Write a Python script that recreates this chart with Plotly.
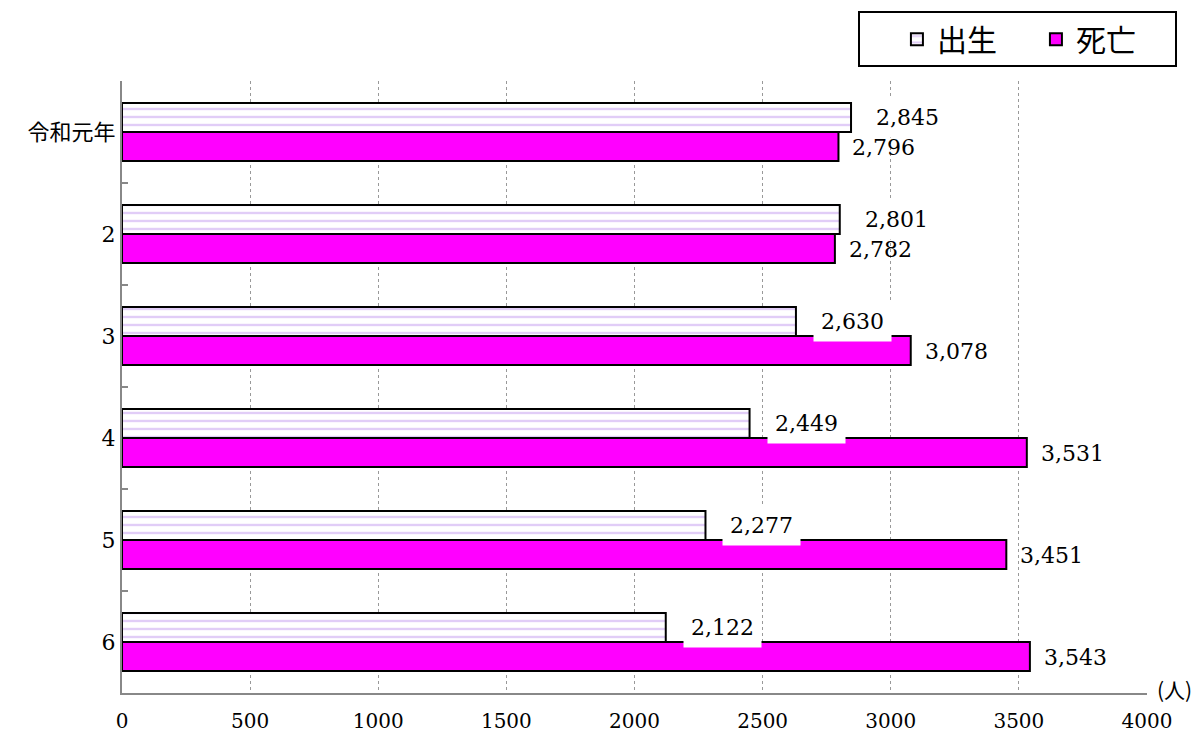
import plotly.graph_objects as go

categories = ["令和元年", "2", "3", "4", "5", "6"]
births = [2845, 2801, 2630, 2449, 2277, 2122]
deaths = [2796, 2782, 3078, 3531, 3451, 3543]
x_ticks = [0, 500, 1000, 1500, 2000, 2500, 3000, 3500, 4000]

XTICKFONT = "DejaVu Serif"
YTICKFONT = "DejaVu Serif, Noto Sans CJK JP"
LABELFONT = "DejaVu Serif"

fig = go.Figure()
fig.add_trace(go.Bar(
    y=categories, x=births, orientation="h", name="出生",
    marker=dict(color="white", line=dict(color="black", width=2),
                pattern=dict(shape="-", fgcolor="#c49cf0", bgcolor="white",
                             size=8, solidity=0.3, fillmode="overlay")),
))
fig.add_trace(go.Bar(
    y=categories, x=deaths, orientation="h", name="死亡",
    marker=dict(color="#ff00ff", line=dict(color="black", width=2)),
))

annotations = []
for i, (b, d) in enumerate(zip(births, deaths)):
    annotations.append(dict(x=b, y=i, xref="x", yref="y", text=f"{b:,}",
                            xanchor="left", yanchor="middle", showarrow=False,
                            xshift=17, yshift=14.5, bgcolor="white", borderpad=7,
                            font=dict(family=LABELFONT, size=22, color="black")))
    annotations.append(dict(x=d, y=i, xref="x", yref="y", text=f"{d:,}",
                            xanchor="left", yanchor="middle", showarrow=False,
                            xshift=9, yshift=-15, bgcolor="rgba(0,0,0,0)", borderpad=4,
                            font=dict(family=LABELFONT, size=22, color="black")))
annotations.append(dict(x=1.0, y=0, xref="paper", yref="paper", text="(人)",
                        xanchor="left", yanchor="bottom", showarrow=False, xshift=8, yshift=-13,
                        font=dict(family="Noto Sans CJK JP", size=21, color="black")))

fig.update_layout(
    width=1201, height=735,
    margin=dict(l=114, r=62, t=73, b=50, autoexpand=False),
    paper_bgcolor="white", plot_bgcolor="white",
    barmode="group", bargap=0.43, bargroupgap=0.0,
    font=dict(family=XTICKFONT, size=20, color="black"),
    showlegend=True,
    legend=dict(orientation="h", x=1.0293, xanchor="right", y=1.114, yanchor="top",
                bordercolor="black", borderwidth=2, bgcolor="white",
                font=dict(family="Noto Sans CJK JP", size=30, color="black"),
                title=dict(text="\u00a0\u00a0\u00a0\u00a0", side="left",
                           font=dict(family="Noto Sans CJK JP", size=30)),
                itemwidth=30, entrywidth=94),
    annotations=annotations,
    xaxis=dict(range=[0, 4000], tickvals=x_ticks, showgrid=True, gridcolor="#999999",
               griddash="dot", gridwidth=1, showline=True, linecolor="#888888", linewidth=2,
               ticks="", zeroline=False, ticklabelstandoff=9,
               tickfont=dict(family=XTICKFONT, size=20)),
    yaxis=dict(type="category", autorange="reversed", showline=True, linecolor="#888888",
               linewidth=2, ticks="inside", tickson="boundaries", ticklen=6,
               tickcolor="#888888", tickwidth=2, showgrid=False,
               tickfont=dict(family=YTICKFONT, size=22)),
)

fig.write_html("out.html")
